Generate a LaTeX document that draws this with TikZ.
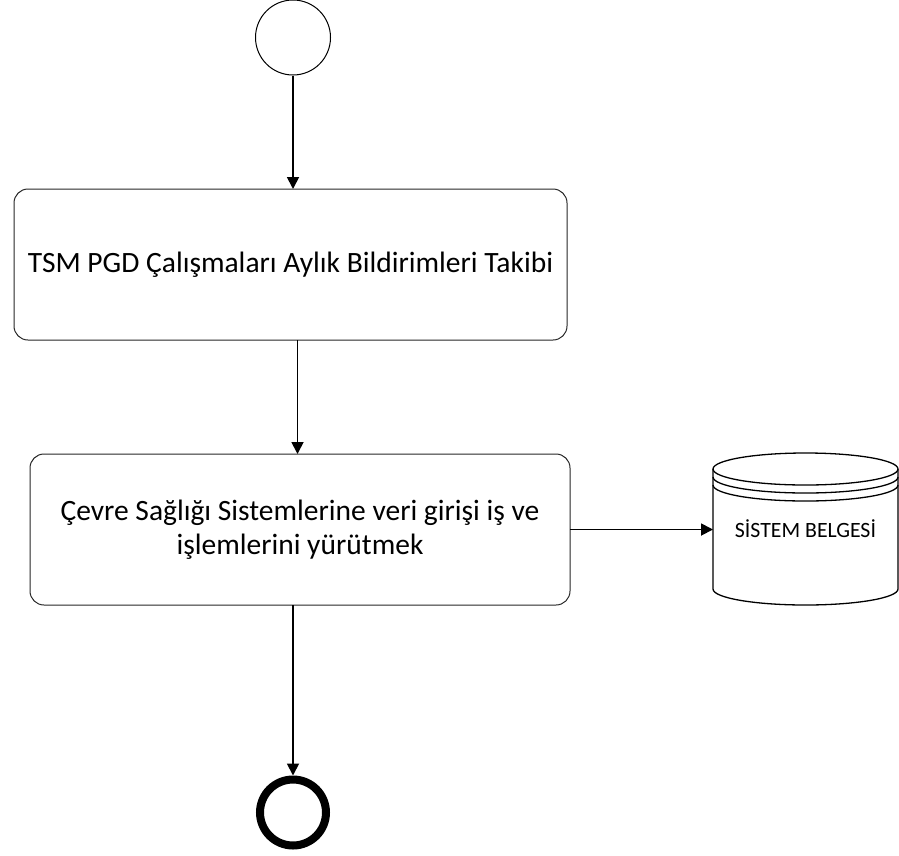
\documentclass[tikz,border=0pt]{standalone}
\usepackage{fontspec}
\setmainfont{Carlito}
\usetikzlibrary{arrows.meta}

\tikzset{
  task/.style={draw=black!85, line width=1pt, rounded corners=14pt, minimum width=553pt,
    minimum height=151pt, align=center, inner sep=0pt, outer sep=0pt,
    font=\fontsize{29.5}{34}\selectfont},
  flow/.style={line width=1.8pt, -{Triangle[length=12pt,width=12pt]}},
  store/.style={line width=1.3pt},
}

\begin{document}
\begin{tikzpicture}[x=1pt,y=-1pt]
  \useasboundingbox (0,0) rectangle (899,855);
  \node[circle, draw, line width=1pt, minimum size=75pt, inner sep=0pt] (start) at (293,37.5) {};
  \node[task] (takip) at (290.5,264.5) {TSM PGD Çalışmaları Aylık Bildirimleri Takibi};
  \node[task, minimum width=540pt] (giris) at (300,529.5)
    {Çevre Sağlığı Sistemlerine veri girişi iş ve\\ işlemlerini yürütmek};
  \node[circle, draw, line width=8pt, minimum size=66pt, inner sep=0pt] (stop) at (293,812.5) {};
  % data store
  \node[minimum width=185pt, minimum height=152pt, inner sep=0pt, outer sep=0pt,
    font=\fontsize{21.8}{26}\selectfont] (belge) at (805.5,529) {SİSTEM BELGESİ};
  \draw[store] (805.5,469) ellipse [x radius=92.5, y radius=16];
  \draw[store] (713,477) arc [start angle=180, end angle=0, x radius=92.5, y radius=16];
  \draw[store] (713,485) arc [start angle=180, end angle=0, x radius=92.5, y radius=16];
  \draw[store] (713,469) -- (713,589) arc [start angle=180, end angle=0, x radius=92.5, y radius=16] -- (898,469);

  \draw[flow] (start.south) -- (start.south |- takip.north);
  \draw[flow] ([xshift=7pt]takip.south) -- ([xshift=7pt]takip.south |- giris.north);
  \draw[flow] (giris.east) -- (giris.east -| belge.west);
  \draw[flow] (giris.south -| stop) -- (stop.north);
\end{tikzpicture}
\end{document}
